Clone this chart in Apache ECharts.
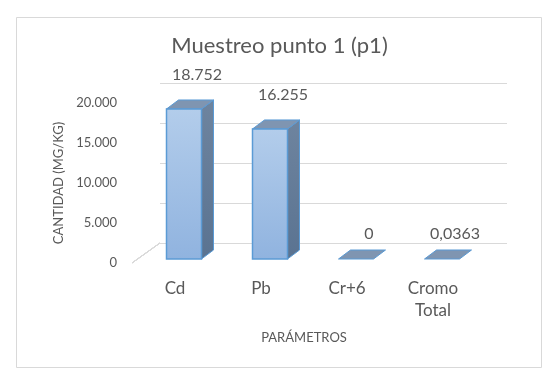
<!DOCTYPE html>
<html>
<head>
<meta charset="utf-8">
<script src="https://cdn.jsdelivr.net/npm/echarts@6/dist/echarts.min.js"></script>
<style>html,body{margin:0;padding:0;background:#fff;}#c{width:559px;height:380px;}</style>
</head>
<body>
<div id="c"></div>
<script>
const categories = ['Cd', 'Pb', 'Cr+6', 'Cromo\nTotal'];
const values = [18752, 16255, 0, 0.0363];
const yTicks = [0, 5000, 10000, 15000, 20000];
const titleText = 'Muestreo punto 1 (p1)';
const yName = 'CANTIDAD (MG/KG)';
const xName = 'PARÁMETROS';

const FONT = 'Lato, "Liberation Sans", sans-serif';
const GRAY = '#595959';

function fmt(v) {
  if (v === 0) return '0';
  if (Math.abs(v) < 1) return String(v).replace('.', ',');
  return String(Math.round(v)).replace(/\B(?=(\d{3})+(?!\d))/g, '.');
}

const chart = echarts.init(document.getElementById('c'));
const DX = 12, DY = -9;   // bar depth offset
const WALL_DX = -28, WALL_DY = 20; // back wall -> front plane

chart.setOption({
  animation: false,
  backgroundColor: '#fff',
  title: {
    text: titleText, left: 'center', top: 30,
    textStyle: { fontFamily: FONT, fontSize: 22, fontWeight: 'normal', color: GRAY }
  },
  graphic: [{
    type: 'rect', shape: { x: 16.5, y: 17.5, width: 525, height: 350 },
    style: { fill: 'none', stroke: '#d9d9d9', lineWidth: 1 }, silent: true, z: -10
  }],
  grid: [
    { left: 160, right: 52, top: 83, height: 160 },
    { left: 132, right: 83, top: 103, height: 160 }
  ],
  xAxis: [
    { gridIndex: 0, type: 'category', data: categories, show: false },
    {
      gridIndex: 1, type: 'category', data: categories,
      axisLine: { show: false }, axisTick: { show: false },
      axisLabel: { margin: 15, fontFamily: FONT, fontSize: 17, color: GRAY, lineHeight: 22 },
      name: xName, nameLocation: 'middle', nameGap: 68,
      nameTextStyle: { fontFamily: FONT, fontSize: 13, color: GRAY }
    }
  ],
  yAxis: [
    {
      gridIndex: 0, type: 'value', min: 0, max: 20000, interval: 5000,
      axisLabel: { show: false }, axisLine: { show: false }, axisTick: { show: false },
      splitLine: { lineStyle: { color: '#d9d9d9', width: 1 } }
    },
    {
      gridIndex: 1, type: 'value', min: 0, max: 20000, interval: 5000,
      axisLine: { show: false }, axisTick: { show: false }, splitLine: { show: false },
      axisLabel: { margin: 15, fontFamily: FONT, fontSize: 13, color: GRAY, formatter: fmt },
      name: yName, nameLocation: 'middle', nameRotate: 90, nameGap: 64,
      nameTextStyle: { fontFamily: FONT, fontSize: 13, color: GRAY }
    }
  ],
  series: [
    {
      type: 'custom', xAxisIndex: 0, yAxisIndex: 0, silent: true,
      data: yTicks,
      renderItem: function (params, api) {
        const y = api.coord([0, api.value(0)])[1];
        const x = params.coordSys.x;
        return {
          type: 'line',
          shape: { x1: x, y1: y, x2: x + WALL_DX, y2: y + WALL_DY },
          style: { stroke: '#d9d9d9', lineWidth: 1 }
        };
      }
    },
    {
      type: 'custom', xAxisIndex: 1, yAxisIndex: 1, silent: true,
      data: values.map((v, i) => [i, v]),
      renderItem: function (params, api) {
        const idx = api.value(0), v = api.value(1);
        const top = api.coord([idx, v]);
        const base = api.coord([idx, 0]);
        const cx = top[0] + 9;
        const w = 35;
        const x0 = cx - w / 2, x1 = cx + w / 2;
        const yb = base[1] - 4, yt = top[1] - 4;
        const stroke = '#5b9bd5';
        const children = [];
        if (yb - yt > 0.5) {
          children.push({
            type: 'polygon',
            shape: { points: [[x1, yb], [x1 + DX, yb + DY], [x1 + DX, yt + DY], [x1, yt]] },
            style: {
              fill: new echarts.graphic.LinearGradient(0, 0, 0, 1, [
                { offset: 0, color: '#6e849f' }, { offset: 1, color: '#5a7391' }
              ]), stroke: stroke, lineWidth: 1
            }
          });
        }
        children.push({
          type: 'polygon',
          shape: { points: [[x0, yt], [x1, yt], [x1 + DX, yt + DY], [x0 + DX, yt + DY]] },
          style: { fill: '#7f95b1', stroke: stroke, lineWidth: 1 }
        });
        if (yb - yt > 0.5) {
          children.push({
            type: 'rect',
            shape: { x: x0, y: yt, width: w, height: yb - yt },
            style: {
              fill: new echarts.graphic.LinearGradient(0, 0, 0, 1, [
                { offset: 0, color: '#b3cdeb' }, { offset: 1, color: '#90b3df' }
              ]), stroke: stroke, lineWidth: 1.5
            }
          });
        }
        children.push({
          type: 'text',
          style: {
            text: fmt(v), x: cx + 13, y: yt - (yb - yt > 0.5 ? 34 : 25),
            align: 'center', verticalAlign: 'middle',
            fontFamily: FONT, fontSize: 16, fill: GRAY
          }
        });
        return { type: 'group', children: children };
      }
    }
  ]
});
</script>
</body>
</html>
